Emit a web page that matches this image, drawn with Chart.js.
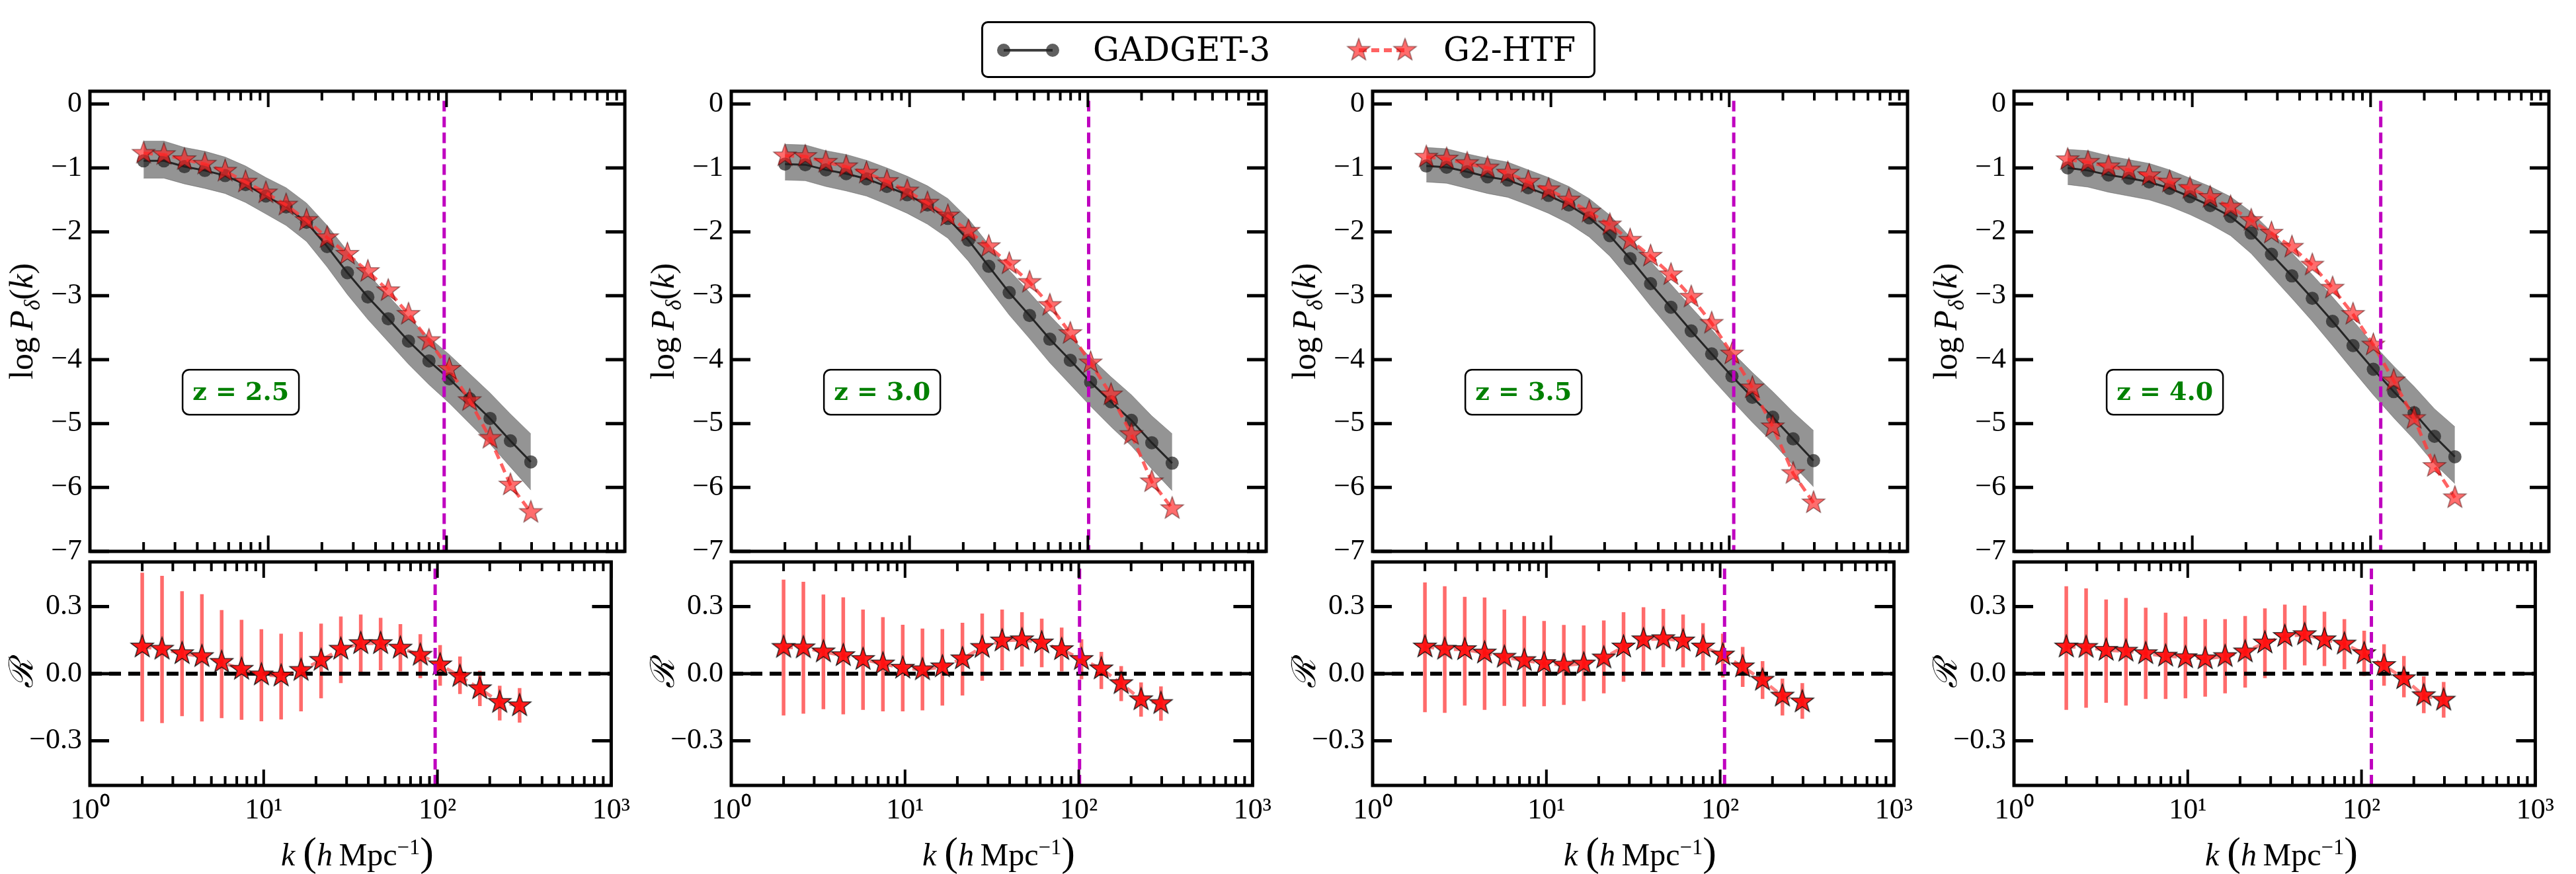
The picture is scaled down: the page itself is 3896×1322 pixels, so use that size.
<!DOCTYPE html>
<html>
<head>
<meta charset="utf-8">
<script src="https://cdn.jsdelivr.net/npm/chart.js@4.4.0/dist/chart.umd.min.js"></script>
<style>
  body { margin: 0; background: #fff; width: 3896px; height: 1322px; position: relative; overflow: hidden; font-family: "Liberation Serif", "DejaVu Serif", serif; }
  canvas.panel { position: absolute; }
  .rot { position: absolute; transform: translate(-50%, -50%) rotate(-90deg); white-space: nowrap; font-size: 50px; line-height: 1; }
  .xlab { position: absolute; transform: translate(-50%, -50%); white-space: nowrap; font-size: 48px; line-height: 1; }
  .xlab .par { font-size: 62px; }
  sub, sup { font-size: 0.68em; line-height: 0; }
  #legend { position: absolute; left: 1484px; top: 32px; width: 923px; height: 80px; border: 3px solid #000; border-radius: 10px; }
  .legtxt { position: absolute; font-family: "DejaVu Serif", serif; font-size: 50px; line-height: 1; transform: translateY(-50%); }
</style>
</head>
<body>
<div id="legend"><canvas id="legIcons" width="923" height="80" style="position:absolute;left:0;top:0"></canvas></div>
<div class="legtxt" style="left:1653px; top:75px">GADGET-3</div>
<div class="legtxt" style="left:2183px; top:75px">G2-HTF</div>

<script>
// k bins (h/Mpc), shared by all redshifts
const kValues = [2.0, 2.6, 3.39, 4.41, 5.73, 7.46, 9.7, 12.6, 16.4, 21.4, 27.8, 36.2, 47.1, 61.2, 79.7, 103.6, 134.8, 175.4, 228.2, 297];
const zLabels = ['z = 2.5', 'z = 3.0', 'z = 3.5', 'z = 4.0'];
const kCut = [97, 101, 106, 114];
const xTicks = [1, 10, 100, 1000];
const xTickLabels = ['10\u2070', '10\u00b9', '10\u00b2', '10\u00b3'];
const yTicksTop = [-7, -6, -5, -4, -3, -2, -1, 0];
const yTicksRatio = [-0.3, 0, 0.3];

// z = 2.5
const gadget25   = [-0.89, -0.89, -0.98, -1.04, -1.12, -1.26, -1.44, -1.61, -1.85, -2.23, -2.64, -3.02, -3.36, -3.71, -4.02, -4.30, -4.61, -4.92, -5.27, -5.60];
const gadgetHi25 = [-0.58, -0.58, -0.68, -0.74, -0.83, -0.97, -1.15, -1.31, -1.55, -1.90, -2.30, -2.66, -3.00, -3.34, -3.65, -3.92, -4.22, -4.52, -4.85, -5.16];
const gadgetLo25 = [-1.16, -1.16, -1.25, -1.32, -1.40, -1.54, -1.72, -1.90, -2.15, -2.55, -2.98, -3.37, -3.72, -4.07, -4.39, -4.68, -5.00, -5.32, -5.68, -6.04];
const htf25      = [-0.77, -0.79, -0.87, -0.94, -1.05, -1.22, -1.39, -1.58, -1.82, -2.09, -2.35, -2.62, -2.92, -3.29, -3.70, -4.15, -4.64, -5.23, -5.96, -6.39];
const ratio25    = [0.120, 0.110, 0.090, 0.077, 0.051, 0.020, -0.005, -0.010, 0.015, 0.060, 0.110, 0.135, 0.135, 0.115, 0.083, 0.040, -0.012, -0.067, -0.128, -0.143];
const ratioHi25  = [0.452, 0.438, 0.369, 0.356, 0.285, 0.241, 0.199, 0.179, 0.187, 0.224, 0.256, 0.265, 0.250, 0.222, 0.177, 0.128, 0.077, 0.013, -0.054, -0.064];
const ratioLo25  = [-0.214, -0.221, -0.190, -0.214, -0.199, -0.206, -0.213, -0.205, -0.169, -0.110, -0.042, -0.002, 0.015, 0.010, -0.020, -0.054, -0.091, -0.145, -0.209, -0.219];

// z = 3.0
const gadget30   = [-0.94, -0.95, -1.03, -1.09, -1.17, -1.29, -1.42, -1.58, -1.79, -2.13, -2.54, -2.95, -3.31, -3.68, -4.01, -4.35, -4.66, -4.95, -5.30, -5.62];
const gadgetHi30 = [-0.63, -0.64, -0.73, -0.79, -0.88, -1.00, -1.13, -1.28, -1.48, -1.80, -2.20, -2.60, -2.95, -3.31, -3.64, -3.97, -4.27, -4.55, -4.88, -5.16];
const gadgetLo30 = [-1.19, -1.20, -1.29, -1.36, -1.44, -1.57, -1.71, -1.88, -2.10, -2.46, -2.88, -3.30, -3.67, -4.05, -4.39, -4.73, -5.05, -5.35, -5.71, -6.05];
const htf30      = [-0.81, -0.82, -0.91, -0.98, -1.08, -1.21, -1.36, -1.55, -1.75, -1.99, -2.23, -2.50, -2.79, -3.15, -3.59, -4.05, -4.55, -5.17, -5.91, -6.33];
const ratio30    = [0.118, 0.116, 0.098, 0.081, 0.064, 0.044, 0.025, 0.018, 0.031, 0.067, 0.118, 0.147, 0.152, 0.138, 0.108, 0.064, 0.022, -0.044, -0.116, -0.133];
const ratioHi30  = [0.421, 0.411, 0.354, 0.342, 0.287, 0.253, 0.219, 0.202, 0.200, 0.228, 0.269, 0.287, 0.275, 0.246, 0.206, 0.154, 0.098, 0.034, -0.039, -0.057];
const ratioLo30  = [-0.187, -0.179, -0.159, -0.182, -0.162, -0.169, -0.169, -0.164, -0.143, -0.098, -0.032, 0.015, 0.032, 0.029, 0.010, -0.025, -0.069, -0.123, -0.192, -0.211];

// z = 3.5
const gadget35   = [-0.97, -0.99, -1.06, -1.14, -1.19, -1.31, -1.43, -1.58, -1.78, -2.06, -2.42, -2.81, -3.18, -3.55, -3.91, -4.26, -4.59, -4.90, -5.24, -5.58];
const gadgetHi35 = [-0.68, -0.70, -0.78, -0.85, -0.91, -1.03, -1.15, -1.29, -1.48, -1.74, -2.08, -2.46, -2.82, -3.18, -3.53, -3.88, -4.20, -4.50, -4.82, -5.11];
const gadgetLo35 = [-1.22, -1.24, -1.32, -1.40, -1.46, -1.58, -1.71, -1.87, -2.08, -2.38, -2.76, -3.16, -3.54, -3.92, -4.29, -4.64, -4.98, -5.30, -5.65, -5.99];
const htf35      = [-0.83, -0.86, -0.93, -1.00, -1.08, -1.22, -1.34, -1.50, -1.69, -1.89, -2.13, -2.38, -2.67, -3.02, -3.43, -3.91, -4.44, -5.05, -5.78, -6.24];
const ratio35    = [0.120, 0.110, 0.108, 0.093, 0.074, 0.059, 0.046, 0.039, 0.044, 0.071, 0.120, 0.152, 0.157, 0.147, 0.120, 0.084, 0.031, -0.029, -0.100, -0.126];
const ratioHi35  = [0.408, 0.391, 0.344, 0.341, 0.287, 0.258, 0.236, 0.218, 0.216, 0.238, 0.275, 0.297, 0.290, 0.265, 0.226, 0.179, 0.120, 0.056, -0.022, -0.042];
const ratioLo35  = [-0.172, -0.175, -0.143, -0.162, -0.144, -0.147, -0.146, -0.140, -0.123, -0.088, -0.036, 0.010, 0.029, 0.028, 0.013, -0.017, -0.059, -0.113, -0.187, -0.202];

// z = 4.0
const gadget40   = [-1.00, -1.04, -1.11, -1.16, -1.22, -1.32, -1.45, -1.59, -1.76, -2.02, -2.35, -2.69, -3.04, -3.40, -3.78, -4.15, -4.50, -4.83, -5.20, -5.52];
const gadgetHi40 = [-0.71, -0.73, -0.81, -0.87, -0.93, -1.03, -1.16, -1.29, -1.45, -1.69, -2.00, -2.33, -2.67, -3.02, -3.39, -3.76, -4.10, -4.42, -4.77, -5.05];
const gadgetLo40 = [-1.26, -1.30, -1.38, -1.44, -1.50, -1.60, -1.73, -1.88, -2.06, -2.34, -2.69, -3.04, -3.40, -3.78, -4.17, -4.55, -4.91, -5.25, -5.63, -5.94];
const htf40      = [-0.87, -0.91, -0.98, -1.03, -1.12, -1.22, -1.32, -1.46, -1.61, -1.82, -2.02, -2.24, -2.52, -2.88, -3.29, -3.77, -4.33, -4.92, -5.67, -6.16];
const ratio40    = [0.120, 0.118, 0.105, 0.101, 0.090, 0.079, 0.072, 0.067, 0.077, 0.098, 0.138, 0.167, 0.175, 0.152, 0.133, 0.090, 0.037, -0.022, -0.098, -0.118];
const ratioHi40  = [0.391, 0.382, 0.332, 0.339, 0.295, 0.273, 0.256, 0.244, 0.244, 0.258, 0.292, 0.309, 0.305, 0.277, 0.244, 0.192, 0.132, 0.079, -0.012, -0.037];
const ratioLo40  = [-0.162, -0.152, -0.130, -0.143, -0.113, -0.113, -0.110, -0.103, -0.088, -0.062, -0.020, 0.018, 0.037, 0.034, 0.020, -0.010, -0.054, -0.106, -0.177, -0.197];

const panels = [
  { gadget: gadget25, hi: gadgetHi25, lo: gadgetLo25, htf: htf25, ratio: ratio25, rHi: ratioHi25, rLo: ratioLo25 },
  { gadget: gadget30, hi: gadgetHi30, lo: gadgetLo30, htf: htf30, ratio: ratio30, rHi: ratioHi30, rLo: ratioLo30 },
  { gadget: gadget35, hi: gadgetHi35, lo: gadgetLo35, htf: htf35, ratio: ratio35, rHi: ratioHi35, rLo: ratioLo35 },
  { gadget: gadget40, hi: gadgetHi40, lo: gadgetLo40, htf: htf40, ratio: ratio40, rHi: ratioHi40, rLo: ratioLo40 }
];

// layout
const panelLeft = [136, 1106, 2076, 3046];
const panelW = 809;
const topY = 138, topBottom = 834, botY = 850, botBottom = 1188;
const axisW = 130;

const pts = ys => kValues.map((k, i) => ({ x: k, y: ys[i] }));

function starImage(r, fill, stroke, lw) {
  const c = document.createElement('canvas');
  const s = Math.ceil(2 * r + 2 * lw + 4);
  c.width = c.height = s;
  const g = c.getContext('2d');
  g.translate(s / 2, s / 2);
  g.beginPath();
  for (let i = 0; i < 10; i++) {
    const rad = i % 2 === 0 ? r : r * 0.4;
    const ang = -Math.PI / 2 + i * Math.PI / 5;
    g.lineTo(rad * Math.cos(ang), rad * Math.sin(ang));
  }
  g.closePath();
  g.fillStyle = fill;
  g.fill();
  g.lineWidth = lw;
  g.strokeStyle = stroke;
  g.stroke();
  return c;
}
const starTop = starImage(18, 'rgba(255,30,30,0.65)', 'rgba(60,0,0,0.6)', 1.2);
const starBot = starImage(18, 'rgba(255,10,10,0.92)', '#111', 1.3);

// matplotlib-like frame with inward ticks on all sides
const frameTicks = {
  id: 'frameTicks',
  afterDraw(chart) {
    const { ctx, chartArea: a, scales } = chart;
    const x = scales.x, y = scales.y;
    ctx.save();
    ctx.strokeStyle = '#000';
    ctx.lineWidth = 4;
    const vtick = (px, len) => {
      ctx.beginPath();
      ctx.moveTo(px, a.bottom); ctx.lineTo(px, a.bottom - len);
      ctx.moveTo(px, a.top); ctx.lineTo(px, a.top + len);
      ctx.stroke();
    };
    xTicks.forEach((d, i) => {
      vtick(x.getPixelForValue(d), 24);
      if (i < xTicks.length - 1) {
        for (let m = 2; m < 10; m++) vtick(x.getPixelForValue(d * m), 14);
      }
    });
    ctx.lineWidth = 5;
    y.ticks.forEach(t => {
      const py = y.getPixelForValue(t.value);
      ctx.beginPath();
      ctx.moveTo(a.left, py); ctx.lineTo(a.left + 29, py);
      ctx.moveTo(a.right, py); ctx.lineTo(a.right - 29, py);
      ctx.stroke();
    });
    ctx.lineWidth = 5;
    ctx.strokeRect(a.left, a.top, a.right - a.left, a.bottom - a.top);
    ctx.restore();
  }
};

const errorBars = {
  id: 'errorBars',
  beforeDatasetsDraw(chart) {
    const { ctx, chartArea: a, scales: { x, y } } = chart;
    ctx.save();
    ctx.beginPath();
    ctx.rect(a.left, a.top, a.right - a.left, a.bottom - a.top);
    ctx.clip();
    chart.data.datasets.forEach(ds => {
      if (!ds.errHi) return;
      ctx.strokeStyle = 'rgba(255,70,70,0.8)';
      ctx.lineWidth = 5.5;
      ds.data.forEach((p, i) => {
        const px = x.getPixelForValue(p.x);
        ctx.beginPath();
        ctx.moveTo(px, y.getPixelForValue(ds.errLo[i]));
        ctx.lineTo(px, y.getPixelForValue(ds.errHi[i]));
        ctx.stroke();
      });
    });
    ctx.restore();
  }
};

const zBox = {
  id: 'zBox',
  afterDatasetsDraw(chart, args, opts) {
    if (!opts.text) return;
    const { ctx, chartArea: a } = chart;
    const cx = a.left + 0.282 * (a.right - a.left);
    const cy = a.top + 0.654 * (a.bottom - a.top);
    ctx.save();
    ctx.font = 'bold 38px "DejaVu Serif", serif';
    const tw = ctx.measureText(opts.text).width;
    const w = tw + 30, h = 68, r = 10;
    ctx.beginPath();
    ctx.roundRect(cx - w / 2, cy - h / 2, w, h, r);
    ctx.fillStyle = '#fff';
    ctx.fill();
    ctx.lineWidth = 2.5;
    ctx.strokeStyle = '#000';
    ctx.stroke();
    ctx.fillStyle = '#008000';
    ctx.textAlign = 'center';
    ctx.textBaseline = 'middle';
    ctx.fillText(opts.text, cx, cy + 2);
    ctx.restore();
  }
};

const tickFont = { family: '"Liberation Serif", serif', size: 44 };

function addCanvas(left, top, w, h) {
  const c = document.createElement('canvas');
  c.className = 'panel';
  c.width = w; c.height = h;
  c.style.left = left + 'px';
  c.style.top = top + 'px';
  document.body.appendChild(c);
  return c;
}

function addLabel(cls, html, x, y) {
  const d = document.createElement('div');
  d.className = cls;
  d.innerHTML = html;
  d.style.left = x + 'px';
  d.style.top = y + 'px';
  document.body.appendChild(d);
}

panels.forEach((p, i) => {
  const L = panelLeft[i];
  const pad = 40, padRight = 20;

  // upper panel: log power spectrum
  const topCanvas = addCanvas(L - axisW, topY - pad, axisW + panelW + padRight, pad + (topBottom - topY) + pad);
  new Chart(topCanvas, {
    type: 'line',
    data: {
      datasets: [
        { data: pts(p.hi), fill: '+1', backgroundColor: 'rgba(70,70,70,0.58)', borderColor: 'rgba(90,90,90,0.5)', borderWidth: 1, pointRadius: 0, order: 10 },
        { data: pts(p.lo), fill: false, borderColor: 'rgba(90,90,90,0.5)', borderWidth: 1, pointRadius: 0, order: 11 },
        { label: 'GADGET-3', data: pts(p.gadget), borderColor: 'rgba(0,0,0,0.75)', borderWidth: 3, pointRadius: 10, pointBackgroundColor: 'rgba(35,35,35,0.72)', pointBorderWidth: 0, order: 5 },
        { label: 'G2-HTF', data: pts(p.htf), borderColor: 'rgba(255,60,60,0.8)', borderWidth: 5, borderDash: [14, 8], pointStyle: starTop, order: 3 },
        { data: [{ x: kCut[i], y: 0.05 }, { x: kCut[i], y: -7 }], borderColor: '#bf00bf', borderWidth: 5, borderDash: [16, 8], pointRadius: 0, order: 1 }
      ]
    },
    options: {
      responsive: false,
      animation: false,
      devicePixelRatio: 1,
      layout: { padding: { top: pad, bottom: pad, right: padRight, left: 0 } },
      elements: { line: { tension: 0 } },
      plugins: { legend: { display: false }, tooltip: { enabled: false }, zBox: { text: zLabels[i] } },
      scales: {
        x: { type: 'logarithmic', min: 1, max: 1000, display: false },
        y: {
          min: -7, max: 0.2,
          afterBuildTicks: s => { s.ticks = yTicksTop.map(v => ({ value: v })); },
          afterFit: s => { s.width = axisW; },
          grid: { display: false, drawTicks: false },
          border: { display: false },
          ticks: { font: tickFont, color: '#000', padding: 12, callback: v => (v < 0 ? '\u2212' + Math.abs(v) : '0') }
        }
      }
    },
    plugins: [frameTicks, zBox]
  });

  // lower panel: ratio
  const xAxisH = 80;
  const botCanvas = addCanvas(L - axisW, botY - pad, axisW + panelW + padRight, pad + (botBottom - botY) + xAxisH);
  new Chart(botCanvas, {
    type: 'line',
    data: {
      datasets: [
        { data: [{ x: 1, y: 0 }, { x: 1000, y: 0 }], borderColor: '#000', borderWidth: 6, borderDash: [18, 11], pointRadius: 0, order: 4 },
        { data: pts(p.ratio), errHi: p.rHi, errLo: p.rLo, borderColor: 'rgba(255,60,60,0.65)', borderWidth: 5, borderDash: [14, 8], pointStyle: starBot, order: 2 },
        { data: [{ x: kCut[i], y: -0.5 }, { x: kCut[i], y: 0.5 }], borderColor: '#bf00bf', borderWidth: 5, borderDash: [16, 8], pointRadius: 0, order: 1 }
      ]
    },
    options: {
      responsive: false,
      animation: false,
      devicePixelRatio: 1,
      layout: { padding: { top: pad, bottom: 0, right: padRight, left: 0 } },
      elements: { line: { tension: 0 } },
      plugins: { legend: { display: false }, tooltip: { enabled: false } },
      scales: {
        x: {
          type: 'logarithmic', min: 1, max: 1000,
          afterBuildTicks: s => { s.ticks = xTicks.map(v => ({ value: v })); },
          afterFit: s => { s.height = xAxisH; },
          grid: { display: false, drawTicks: false },
          border: { display: false },
          ticks: { font: tickFont, color: '#000', padding: 12, autoSkip: false, maxRotation: 0,
                   callback: v => xTickLabels[xTicks.indexOf(v)] }
        },
        y: {
          min: -0.5, max: 0.5,
          afterBuildTicks: s => { s.ticks = yTicksRatio.map(v => ({ value: v })); },
          afterFit: s => { s.width = axisW; },
          grid: { display: false, drawTicks: false },
          border: { display: false },
          ticks: { font: tickFont, color: '#000', padding: 12, callback: v => (v < 0 ? '\u2212' : '') + Math.abs(v).toFixed(1) }
        }
      }
    },
    plugins: [errorBars, frameTicks]
  });

  addLabel('rot', 'log&#8201;<i>P</i><sub><i>\u03b4</i></sub>(<i>k</i>)', L - 104, (topY + topBottom) / 2);
  addLabel('rot', '<span style="font-family:\'DejaVu Serif\',serif;font-style:italic">\u211b</span>', L - 104, 1019);
  addLabel('xlab', '<i>k</i>&nbsp;<span class="par">(</span><i>h</i>&#8201;Mpc<sup>\u22121</sup><span class="par">)</span>', L + panelW / 2, 1288);
});

// legend handles
(function drawLegendIcons() {
  const g = document.getElementById('legIcons').getContext('2d');
  const ox = 1487, oy = 35, cy = 76 - oy;
  g.strokeStyle = 'rgba(0,0,0,0.75)';
  g.lineWidth = 4;
  g.beginPath(); g.moveTo(1518 - ox, cy); g.lineTo(1592 - ox, cy); g.stroke();
  g.fillStyle = 'rgba(35,35,35,0.72)';
  [1518, 1592].forEach(x => { g.beginPath(); g.arc(x - ox, cy, 10, 0, Math.PI * 2); g.fill(); });
  g.strokeStyle = 'rgba(255,60,60,0.8)';
  g.lineWidth = 6;
  g.setLineDash([12, 7]);
  g.beginPath(); g.moveTo(2055 - ox, cy); g.lineTo(2125 - ox, cy); g.stroke();
  [2055, 2125].forEach(x => g.drawImage(starTop, x - ox - starTop.width / 2, cy - starTop.height / 2));
})();
</script>
</body>
</html>
